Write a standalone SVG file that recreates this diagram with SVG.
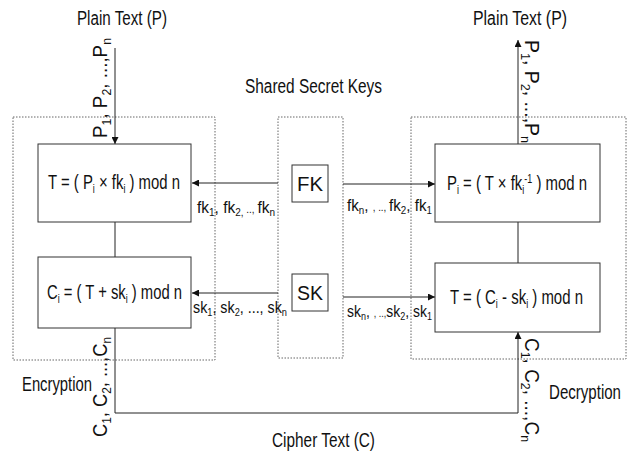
<svg xmlns="http://www.w3.org/2000/svg" width="632" height="459" viewBox="0 0 632 459">
<defs>
<marker id="ah" viewBox="0 0 10 10" refX="10" refY="5" markerWidth="9" markerHeight="7" markerUnits="userSpaceOnUse" orient="auto">
<path d="M0,0 L10,5 L0,10 z" fill="#111"/>
</marker>
</defs>
<style>
text{font-family:"Liberation Sans",Arial,sans-serif;fill:#111;}
.t{font-size:20px;}
.b{font-size:20px;}
.l{font-size:17px;}
.r{font-size:20px;}
.box{fill:#fff;stroke:#333;stroke-width:1;}
.dot{fill:none;stroke:#666;stroke-width:1;stroke-dasharray:1.5,1.5;}
.ln{fill:none;stroke:#222;stroke-width:1;}
.arr{fill:none;stroke:#222;stroke-width:1;marker-end:url(#ah);}
</style>
<rect width="632" height="459" fill="#fff"/>

<g id="containers">
<rect id="enc-region" class="dot" x="13" y="117" width="202" height="243"/>
<rect id="keys-region" class="dot" x="278" y="117" width="65" height="241"/>
<rect id="dec-region" class="dot" x="411" y="117" width="215" height="242"/>
</g>

<g id="connectors">
<line class="arr" x1="115" y1="48" x2="115" y2="144"/>
<line class="ln" x1="115" y1="222" x2="115" y2="257"/>
<path class="arr" d="M115,328 V413 H518 V332"/>
<line class="ln" x1="518" y1="222" x2="518" y2="263"/>
<line class="arr" x1="518" y1="144" x2="518" y2="40"/>
<line class="arr" x1="278" y1="183" x2="192" y2="183"/>
<line class="arr" x1="343" y1="184" x2="435" y2="184"/>
<line class="arr" x1="278" y1="293" x2="192" y2="293"/>
<line class="arr" x1="343" y1="297" x2="435" y2="297"/>
</g>

<g id="enc-T">
<rect class="box" x="38" y="144" width="153" height="78"/>
<text class="b" x="48" y="189" textLength="132" lengthAdjust="spacingAndGlyphs">T = ( P<tspan font-size="12" dy="4">i</tspan><tspan dy="-4"> × fk</tspan><tspan font-size="12" dy="4">i</tspan><tspan dy="-4"> ) mod n</tspan></text>
</g>
<g id="enc-C">
<rect class="box" x="38" y="257" width="153" height="71"/>
<text class="b" x="47" y="299" textLength="135" lengthAdjust="spacingAndGlyphs">C<tspan font-size="12" dy="4">i</tspan><tspan dy="-4"> = ( T + sk</tspan><tspan font-size="12" dy="4">i</tspan><tspan dy="-4"> ) mod n</tspan></text>
</g>
<g id="FK">
<rect class="box" x="292" y="165" width="36" height="37"/>
<text class="b" x="310" y="191" text-anchor="middle" textLength="26" lengthAdjust="spacingAndGlyphs">FK</text>
</g>
<g id="SK">
<rect class="box" x="292" y="274" width="36" height="37"/>
<text class="b" x="310" y="300" text-anchor="middle" textLength="26" lengthAdjust="spacingAndGlyphs">SK</text>
</g>
<g id="dec-P">
<rect class="box" x="435" y="144" width="165" height="78"/>
<text class="b" x="447" y="190" textLength="140" lengthAdjust="spacingAndGlyphs">P<tspan font-size="12" dy="4">i</tspan><tspan dy="-4"> = ( T  × fk</tspan><tspan font-size="12" dy="4">i</tspan><tspan font-size="12" dy="-11">-1</tspan><tspan dy="7"> ) mod n</tspan></text>
</g>
<g id="dec-T">
<rect class="box" x="435" y="263" width="165" height="69"/>
<text class="b" x="450" y="304" textLength="133" lengthAdjust="spacingAndGlyphs">T = ( C<tspan font-size="12" dy="4">i</tspan><tspan dy="-4"> - sk</tspan><tspan font-size="12" dy="4">i</tspan><tspan dy="-4"> ) mod n</tspan></text>
</g>

<g id="labels">
<text class="t" x="77" y="25" textLength="90" lengthAdjust="spacingAndGlyphs">Plain Text (P)</text>
<text class="t" x="473" y="25" textLength="94" lengthAdjust="spacingAndGlyphs">Plain Text (P)</text>
<text class="t" x="245" y="93" textLength="137" lengthAdjust="spacingAndGlyphs">Shared Secret Keys</text>
<text class="t" x="272" y="447" textLength="103" lengthAdjust="spacingAndGlyphs">Cipher Text (C)</text>
<text class="t" x="22" y="391" textLength="70" lengthAdjust="spacingAndGlyphs">Encryption</text>
<text class="t" x="549" y="399" textLength="72" lengthAdjust="spacingAndGlyphs">Decryption</text>

<text class="l" x="197" y="213" textLength="78" lengthAdjust="spacingAndGlyphs">fk<tspan font-size="11" dy="3">1</tspan><tspan dy="-3">, fk</tspan><tspan font-size="11" dy="3">2,</tspan><tspan font-size="11" dy="-3"> .., </tspan><tspan>fk</tspan><tspan font-size="11" dy="3">n</tspan></text>
<text class="l" x="347" y="211" textLength="85" lengthAdjust="spacingAndGlyphs">fk<tspan font-size="11" dy="3">n</tspan><tspan dy="-3">, </tspan><tspan font-size="11">, .., </tspan><tspan>fk</tspan><tspan font-size="11" dy="3">2</tspan><tspan dy="-3">, fk</tspan><tspan font-size="11" dy="3">1</tspan></text>
<text class="l" x="193" y="313" textLength="94" lengthAdjust="spacingAndGlyphs">sk<tspan font-size="11" dy="3">1</tspan><tspan dy="-3">, sk</tspan><tspan font-size="11" dy="3">2</tspan><tspan dy="-3">, ..., sk</tspan><tspan font-size="11" dy="3">n</tspan></text>
<text class="l" x="347" y="317" textLength="85" lengthAdjust="spacingAndGlyphs">sk<tspan font-size="11" dy="3">n</tspan><tspan dy="-3">, </tspan><tspan font-size="11">, ..,</tspan><tspan>sk</tspan><tspan font-size="11" dy="3">2</tspan><tspan dy="-3">, sk</tspan><tspan font-size="11" dy="3">1</tspan></text>

<text class="r" transform="translate(107,138) rotate(-90)" textLength="100" lengthAdjust="spacingAndGlyphs">P<tspan font-size="13" dy="4">1</tspan><tspan dy="-4">, P</tspan><tspan font-size="13" dy="4">2</tspan><tspan dy="-4">, ...,P</tspan><tspan font-size="13" dy="4">n</tspan></text>
<text class="r" transform="translate(525,40) rotate(90)" textLength="103" lengthAdjust="spacingAndGlyphs">P<tspan font-size="13" dy="4">1</tspan><tspan dy="-4">, P</tspan><tspan font-size="13" dy="4">2</tspan><tspan dy="-4">, ...,P</tspan><tspan font-size="13" dy="4">n</tspan></text>
<text class="r" transform="translate(107,437) rotate(-90)" textLength="100" lengthAdjust="spacingAndGlyphs">C<tspan font-size="13" dy="4">1</tspan><tspan dy="-4">, C</tspan><tspan font-size="13" dy="4">2</tspan><tspan dy="-4">, ...,C</tspan><tspan font-size="13" dy="4">n</tspan></text>
<text class="r" transform="translate(525,338) rotate(90)" textLength="104" lengthAdjust="spacingAndGlyphs">C<tspan font-size="13" dy="4">1</tspan><tspan dy="-4">, C</tspan><tspan font-size="13" dy="4">2</tspan><tspan dy="-4">, ...,C</tspan><tspan font-size="13" dy="4">n</tspan></text>
</g>
</svg>
